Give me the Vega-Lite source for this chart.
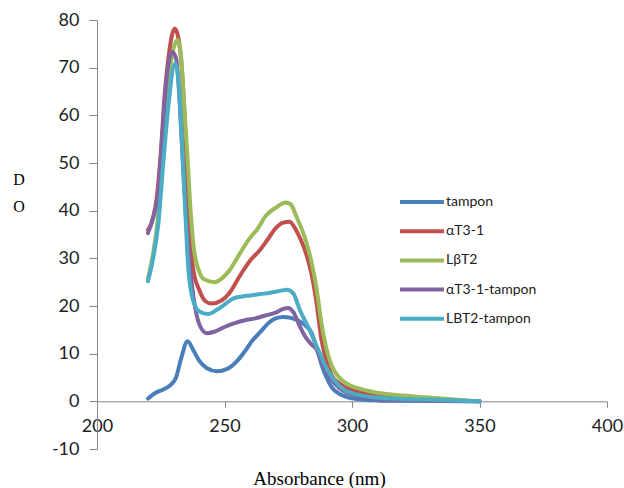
{
  "$schema": "https://vega.github.io/schema/vega-lite/v6.json",
  "width": 510,
  "height": 429,
  "autosize": {"type": "none"},
  "padding": {"left": 97, "top": 20, "right": 17, "bottom": 39},
  "background": "white",
  "config": {"view": {"stroke": null}},
  "data": {"values": [
    {"s":"tampon","x":220,"y":0.6},{"s":"tampon","x":223,"y":1.8},{"s":"tampon","x":226,"y":2.5},{"s":"tampon","x":229,"y":3.5},{"s":"tampon","x":231,"y":5},{"s":"tampon","x":233,"y":9},{"s":"tampon","x":235.5,"y":12.6},{"s":"tampon","x":238,"y":10.5},{"s":"tampon","x":240,"y":8.6},{"s":"tampon","x":243,"y":7},{"s":"tampon","x":247,"y":6.3},{"s":"tampon","x":251,"y":6.8},{"s":"tampon","x":255,"y":8.5},{"s":"tampon","x":258,"y":10.5},{"s":"tampon","x":261,"y":12.8},{"s":"tampon","x":264,"y":14.5},{"s":"tampon","x":267,"y":16.3},{"s":"tampon","x":270,"y":17.4},{"s":"tampon","x":273,"y":17.7},{"s":"tampon","x":276,"y":17.5},{"s":"tampon","x":279,"y":16.9},{"s":"tampon","x":282,"y":15.8},{"s":"tampon","x":284,"y":14.5},{"s":"tampon","x":286,"y":11.5},{"s":"tampon","x":288,"y":7.8},{"s":"tampon","x":290,"y":5},{"s":"tampon","x":292,"y":3},{"s":"tampon","x":295,"y":1.6},{"s":"tampon","x":298,"y":0.9},{"s":"tampon","x":302,"y":0.5},{"s":"tampon","x":310,"y":0.2},{"s":"tampon","x":320,"y":0.1},{"s":"tampon","x":335,"y":0.05},{"s":"tampon","x":350,"y":0},

    {"s":"αT3-1","x":220,"y":35.9},{"s":"αT3-1","x":222,"y":38.5},{"s":"αT3-1","x":223.5,"y":43},{"s":"αT3-1","x":225,"y":52},{"s":"αT3-1","x":226.5,"y":64},{"s":"αT3-1","x":228,"y":72},{"s":"αT3-1","x":230.5,"y":78.2},{"s":"αT3-1","x":232,"y":76},{"s":"αT3-1","x":233.5,"y":68},{"s":"αT3-1","x":235,"y":52},{"s":"αT3-1","x":235.8,"y":41},{"s":"αT3-1","x":237.8,"y":27.5},{"s":"αT3-1","x":240,"y":23.5},{"s":"αT3-1","x":242.5,"y":21},{"s":"αT3-1","x":245,"y":20.5},{"s":"αT3-1","x":249,"y":21.2},{"s":"αT3-1","x":252,"y":22.8},{"s":"αT3-1","x":256,"y":26.3},{"s":"αT3-1","x":260,"y":29.5},{"s":"αT3-1","x":264,"y":31.8},{"s":"αT3-1","x":267,"y":34},{"s":"αT3-1","x":270,"y":36.3},{"s":"αT3-1","x":273,"y":37.5},{"s":"αT3-1","x":275.5,"y":37.7},{"s":"αT3-1","x":278,"y":36},{"s":"αT3-1","x":280,"y":33.8},{"s":"αT3-1","x":282,"y":31},{"s":"αT3-1","x":284,"y":27},{"s":"αT3-1","x":286,"y":21},{"s":"αT3-1","x":288,"y":13},{"s":"αT3-1","x":290,"y":8.5},{"s":"αT3-1","x":292,"y":5.5},{"s":"αT3-1","x":295,"y":3.8},{"s":"αT3-1","x":298,"y":2.8},{"s":"αT3-1","x":302,"y":2.1},{"s":"αT3-1","x":310,"y":1.4},{"s":"αT3-1","x":320,"y":0.9},{"s":"αT3-1","x":330,"y":0.5},{"s":"αT3-1","x":340,"y":0.2},{"s":"αT3-1","x":350,"y":0},

    {"s":"LβT2","x":220,"y":25.8},{"s":"LβT2","x":222,"y":31},{"s":"LβT2","x":224,"y":39},{"s":"LβT2","x":226,"y":54},{"s":"LβT2","x":228,"y":67},{"s":"LβT2","x":230,"y":74},{"s":"LβT2","x":231.5,"y":75.8},{"s":"LβT2","x":233,"y":72},{"s":"LβT2","x":234.2,"y":62},{"s":"LβT2","x":235.4,"y":52},{"s":"LβT2","x":236.7,"y":40},{"s":"LβT2","x":238,"y":32},{"s":"LβT2","x":239.7,"y":27.8},{"s":"LβT2","x":242,"y":25.6},{"s":"LβT2","x":246,"y":25},{"s":"LβT2","x":249,"y":25.8},{"s":"LβT2","x":252,"y":27.5},{"s":"LβT2","x":256,"y":31},{"s":"LβT2","x":260,"y":34.3},{"s":"LβT2","x":263,"y":36.2},{"s":"LβT2","x":266,"y":38.8},{"s":"LβT2","x":270,"y":40.6},{"s":"LβT2","x":274,"y":41.7},{"s":"LβT2","x":276,"y":41.3},{"s":"LβT2","x":278,"y":39},{"s":"LβT2","x":280,"y":36.5},{"s":"LβT2","x":282,"y":33.5},{"s":"LβT2","x":284,"y":29.5},{"s":"LβT2","x":286,"y":24},{"s":"LβT2","x":288,"y":16.5},{"s":"LβT2","x":290,"y":11},{"s":"LβT2","x":292,"y":7.5},{"s":"LβT2","x":295,"y":5},{"s":"LβT2","x":298,"y":3.7},{"s":"LβT2","x":302,"y":2.8},{"s":"LβT2","x":310,"y":1.8},{"s":"LβT2","x":320,"y":1.2},{"s":"LβT2","x":330,"y":0.8},{"s":"LβT2","x":340,"y":0.4},{"s":"LβT2","x":350,"y":0},

    {"s":"αT3-1-tampon","x":220,"y":35.3},{"s":"αT3-1-tampon","x":222,"y":38.5},{"s":"αT3-1-tampon","x":224,"y":44},{"s":"αT3-1-tampon","x":225.5,"y":55},{"s":"αT3-1-tampon","x":227,"y":66},{"s":"αT3-1-tampon","x":229.5,"y":73.3},{"s":"αT3-1-tampon","x":231,"y":72},{"s":"αT3-1-tampon","x":232.5,"y":62},{"s":"αT3-1-tampon","x":233.5,"y":52},{"s":"αT3-1-tampon","x":235,"y":38},{"s":"αT3-1-tampon","x":236.5,"y":28},{"s":"αT3-1-tampon","x":237.8,"y":22},{"s":"αT3-1-tampon","x":240.4,"y":15.8},{"s":"αT3-1-tampon","x":243,"y":14.3},{"s":"αT3-1-tampon","x":246,"y":14.6},{"s":"αT3-1-tampon","x":250,"y":15.6},{"s":"αT3-1-tampon","x":254,"y":16.4},{"s":"αT3-1-tampon","x":258,"y":17},{"s":"αT3-1-tampon","x":262,"y":17.4},{"s":"αT3-1-tampon","x":266,"y":18},{"s":"αT3-1-tampon","x":270,"y":18.6},{"s":"αT3-1-tampon","x":273,"y":19.4},{"s":"αT3-1-tampon","x":275,"y":19.6},{"s":"αT3-1-tampon","x":277,"y":18.7},{"s":"αT3-1-tampon","x":279.5,"y":15.8},{"s":"αT3-1-tampon","x":282,"y":13.3},{"s":"αT3-1-tampon","x":284,"y":12},{"s":"αT3-1-tampon","x":286,"y":11},{"s":"αT3-1-tampon","x":288,"y":8.5},{"s":"αT3-1-tampon","x":290,"y":6.3},{"s":"αT3-1-tampon","x":292,"y":4.5},{"s":"αT3-1-tampon","x":295,"y":2.8},{"s":"αT3-1-tampon","x":298,"y":1.8},{"s":"αT3-1-tampon","x":302,"y":1.2},{"s":"αT3-1-tampon","x":310,"y":0.5},{"s":"αT3-1-tampon","x":320,"y":0.3},{"s":"αT3-1-tampon","x":335,"y":0.1},{"s":"αT3-1-tampon","x":350,"y":0},

    {"s":"LBT2-tampon","x":220,"y":25.2},{"s":"LBT2-tampon","x":222,"y":30},{"s":"LBT2-tampon","x":224,"y":37},{"s":"LBT2-tampon","x":226,"y":50},{"s":"LBT2-tampon","x":228,"y":62},{"s":"LBT2-tampon","x":230.6,"y":70.9},{"s":"LBT2-tampon","x":232,"y":67},{"s":"LBT2-tampon","x":233.2,"y":55},{"s":"LBT2-tampon","x":234.5,"y":41},{"s":"LBT2-tampon","x":235.8,"y":28},{"s":"LBT2-tampon","x":237.5,"y":21.5},{"s":"LBT2-tampon","x":240,"y":18.9},{"s":"LBT2-tampon","x":243.5,"y":18.3},{"s":"LBT2-tampon","x":247,"y":19.2},{"s":"LBT2-tampon","x":250,"y":20.3},{"s":"LBT2-tampon","x":253.5,"y":21.6},{"s":"LBT2-tampon","x":257,"y":22},{"s":"LBT2-tampon","x":260,"y":22.2},{"s":"LBT2-tampon","x":264,"y":22.5},{"s":"LBT2-tampon","x":268,"y":22.8},{"s":"LBT2-tampon","x":272,"y":23.2},{"s":"LBT2-tampon","x":274.5,"y":23.4},{"s":"LBT2-tampon","x":277,"y":22.6},{"s":"LBT2-tampon","x":279.5,"y":19.2},{"s":"LBT2-tampon","x":281.5,"y":17},{"s":"LBT2-tampon","x":283.5,"y":14.9},{"s":"LBT2-tampon","x":285.5,"y":12.3},{"s":"LBT2-tampon","x":287.5,"y":10},{"s":"LBT2-tampon","x":289.5,"y":7.5},{"s":"LBT2-tampon","x":291.5,"y":5.6},{"s":"LBT2-tampon","x":294,"y":3.8},{"s":"LBT2-tampon","x":297,"y":2.4},{"s":"LBT2-tampon","x":303,"y":1.3},{"s":"LBT2-tampon","x":310,"y":0.8},{"s":"LBT2-tampon","x":320,"y":0.5},{"s":"LBT2-tampon","x":335,"y":0.3},{"s":"LBT2-tampon","x":350,"y":0}
  ]},
  "mark": {"type": "line", "interpolate": "monotone", "strokeWidth": 4, "strokeCap": "round", "strokeJoin": "round"},
  "encoding": {
    "x": {
      "field": "x", "type": "quantitative",
      "scale": {"domain": [200, 400], "nice": false, "zero": false},
      "axis": {
        "values": [200, 250, 300, 350, 400],
        "grid": false, "offset": -47.7, "labelFlush": false, "labelOverlap": false,
        "domainColor": "#868686", "tickColor": "#868686", "tickSize": 6,
        "labelFont": "Lato", "labelFontSize": 18, "labelFontWeight": "normal", "labelColor": "#222222", "labelPadding": 10,
        "title": "Absorbance (nm)", "titleFont": "Liberation Serif", "titleFontSize": 19,
        "titleFontWeight": "normal", "titleColor": "#000000",
        "titleX": 222, "titleY": 77, "titleAlign": "center", "titleBaseline": "middle"
      }
    },
    "y": {
      "field": "y", "type": "quantitative",
      "scale": {"domain": [-10, 80], "nice": false, "zero": false},
      "axis": {
        "values": [-10, 0, 10, 20, 30, 40, 50, 60, 70, 80],
        "grid": false, "labelFlush": false, "labelOverlap": false,
        "labelExpr": "replace(datum.label, '−', '-')",
        "domainColor": "#868686", "tickColor": "#868686", "tickSize": 8,
        "labelFont": "Lato", "labelFontSize": 18, "labelFontWeight": "normal", "labelColor": "#222222", "labelPadding": 10,
        "title": ["D", "O"], "titleFont": "Liberation Serif", "titleFontSize": 16,
        "titleFontWeight": "normal", "titleColor": "#000000", "titleAngle": 0,
        "titleLineHeight": 27,
        "titleX": -78.5, "titleY": 151, "titleAlign": "center", "titleBaseline": "top"
      }
    },
    "color": {
      "field": "s", "type": "nominal",
      "scale": {
        "domain": ["tampon", "αT3-1", "LβT2", "αT3-1-tampon", "LBT2-tampon"],
        "range": ["#4A7EBB", "#C0504D", "#9BBB59", "#8064A2", "#4BACC6"]
      },
      "legend": {
        "orient": "none", "legendX": 312, "legendY": 169, "padding": 0,
        "title": null,
        "symbolType": "M-2,0H2", "symbolSize": 484, "symbolStrokeWidth": 4,
        "labelOffset": 11, "rowPadding": 8.2,
        "labelFont": "Lato", "labelFontSize": 14, "labelFontWeight": "normal", "labelColor": "#222222"
      }
    }
  }
}
